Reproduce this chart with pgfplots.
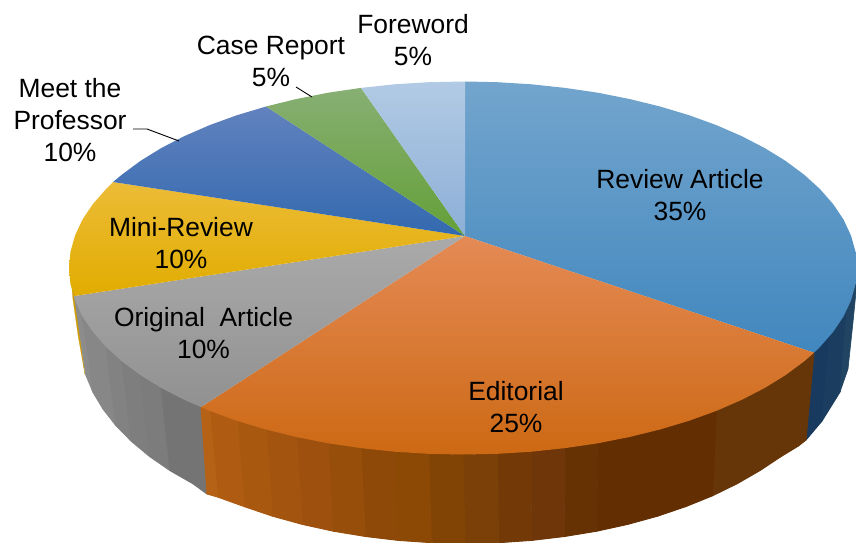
\documentclass[border=0pt]{standalone}
\usepackage{fontspec}
\setmainfont{Liberation Sans}
\usepackage{pgfplots}
\pgfplotsset{compat=1.18}
% wall colours
\definecolor{oa}{RGB}{102,54,8}
\definecolor{ob}{RGB}{98,46,2}
\definecolor{oc}{RGB}{102,50,3}
\definecolor{od}{RGB}{110,54,9}
\definecolor{oe}{RGB}{115,58,8}
\definecolor{of}{RGB}{123,64,7}
\definecolor{og}{RGB}{130,68,5}
\definecolor{oh}{RGB}{140,72,5}
\definecolor{oi}{RGB}{142,72,8}
\definecolor{oj}{RGB}{150,78,10}
\definecolor{ok}{RGB}{158,80,15}
\definecolor{ol}{RGB}{163,85,15}
\definecolor{om}{RGB}{168,88,15}
\definecolor{on}{RGB}{175,92,18}
\definecolor{oo}{RGB}{182,98,22}
\definecolor{ba}{RGB}{25,58,95}
\definecolor{bb}{RGB}{27,62,96}
\definecolor{bc}{RGB}{32,68,98}
\definecolor{ga}{RGB}{116,116,116}
\definecolor{gb}{RGB}{124,124,124}
\definecolor{gc}{RGB}{126,126,126}
\definecolor{gd}{RGB}{130,130,130}
\definecolor{ge}{RGB}{135,135,135}
\definecolor{gf}{RGB}{140,140,140}
\definecolor{ys}{RGB}{205,155,10}
% top-face colours
\definecolor{r1}{RGB}{115,165,205}\definecolor{r2}{RGB}{85,150,205}\definecolor{r3}{RGB}{65,135,190}
\definecolor{e1}{RGB}{228,138,85}\definecolor{e2}{RGB}{218,122,35}\definecolor{e3}{RGB}{205,105,20}
\definecolor{s1}{RGB}{170,170,170}\definecolor{s2}{RGB}{158,158,158}\definecolor{s3}{RGB}{145,145,145}
\definecolor{y1}{RGB}{236,188,55}\definecolor{y2}{RGB}{238,184,0}\definecolor{y3}{RGB}{225,172,0}
\definecolor{d1}{RGB}{98,130,190}\definecolor{d2}{RGB}{65,115,190}\definecolor{d3}{RGB}{50,105,175}
\definecolor{c1}{RGB}{135,175,115}\definecolor{c2}{RGB}{112,170,75}\definecolor{c3}{RGB}{100,160,55}
\definecolor{f1}{RGB}{178,202,228}\definecolor{f2}{RGB}{160,192,226}\definecolor{f3}{RGB}{140,175,215}
\newcommand\Q[9]{\addplot[fill=#1,draw=#1,line width=0.9pt] coordinates {(#2,#3)(#6,#7)(#8,#9)(#4,#5)} -- cycle;}
\begin{document}
\begin{tikzpicture}
\begin{axis}[
  width=856pt,height=543pt,scale only axis,
  xmin=0,xmax=856,ymin=0,ymax=543,y dir=reverse,
  hide axis,
  every axis plot/.append style={no markers,line join=round},
]
\addplot[fill=white,draw=none] coordinates {(0,0)(856,0)(856,543)(0,543)} -- cycle;
% blue wall
\Q{ba}{814}{352.7}{806}{440}{830}{336}{822}{421}
\Q{bb}{830}{336}{822}{421}{847}{309}{840}{392}
\addplot[fill=bc,draw=bc,line width=0.6pt] coordinates {(847,309)(857,268)(856,292)(853,322)(848,369)(840,392)} -- cycle;
% yellow sliver
\addplot[fill=ys,draw=ys,line width=0.2pt] coordinates {(70.5,272)(75,296)(80,335)(85,375)(78,335)(73,300)} -- cycle;
% grey wall
\Q{gf}{82.4}{316.3}{93}{392.3}{74.5}{296}{85.8}{375}
\Q{ge}{92.8}{331.8}{103.2}{409.3}{82.4}{316.3}{93}{392.3}
\Q{ge}{105.9}{346.8}{116}{425.7}{92.8}{331.8}{103.2}{409.3}
\Q{gd}{121.8}{361.25}{131.6}{441.5}{105.9}{346.8}{116}{425.7}
\Q{gc}{140.3}{375}{149.6}{456.5}{121.8}{361.25}{131.6}{441.5}
\Q{gb}{161.2}{387.9}{170}{470.6}{140.3}{375}{149.6}{456.5}
\Q{ga}{184.4}{399.9}{193}{483.8}{161.2}{387.9}{170}{470.6}
\Q{ga}{201}{407}{207}{494}{184.4}{399.9}{193}{483.8}
% orange wall
\Q{oa}{814}{352.7}{806}{440}{804.2}{361.3}{798.4}{446}
\Q{oa}{804.2}{361.3}{798.4}{446}{785.7}{375}{780.4}{457}
\Q{oa}{785.7}{375}{780.4}{457}{764.8}{387.9}{759.9}{470.6}
\Q{oa}{764.8}{387.9}{759.9}{470.6}{741.6}{399.9}{737.2}{483.7}
\Q{oa}{741.6}{399.9}{737.2}{483.7}{716.3}{410.9}{712.5}{495.8}
\Q{ob}{716.3}{410.9}{712.5}{495.8}{689}{420.8}{685.8}{506.6}
\Q{ob}{689}{420.8}{685.8}{506.6}{660}{429.5}{657.5}{516.2}
\Q{ob}{660}{429.5}{657.5}{516.2}{629.5}{437}{627.7}{524.4}
\Q{ob}{629.5}{437}{627.7}{524.4}{597.8}{443.3}{596.7}{531.2}
\Q{oc}{597.8}{443.3}{596.7}{531.2}{565}{448.1}{564.6}{536.5}
\Q{od}{565}{448.1}{564.6}{536.5}{531.4}{451.7}{531.9}{540.4}
\Q{oe}{531.4}{451.7}{531.9}{540.4}{497.3}{453.8}{498.6}{542.7}
\Q{of}{497.3}{453.8}{498.6}{542.7}{463}{454.5}{465}{543.5}
\Q{og}{463}{454.5}{465}{543.5}{428.7}{453.8}{431.4}{542.7}
\Q{oh}{428.7}{453.8}{431.4}{542.7}{394.6}{451.7}{398.1}{540.4}
\Q{oi}{394.6}{451.7}{398.1}{540.4}{361}{448.1}{365.4}{536.5}
\Q{oj}{361}{448.1}{365.4}{536.5}{328.2}{443.3}{333.3}{531.2}
\Q{ok}{328.2}{443.3}{333.3}{531.2}{296.5}{437}{302.3}{524.4}
\Q{ol}{296.5}{437}{302.3}{524.4}{266}{429.5}{272.5}{516.2}
\Q{om}{266}{429.5}{272.5}{516.2}{237}{420.8}{244.2}{506.6}
\Q{on}{237}{420.8}{244.2}{506.6}{209.7}{410.9}{217.5}{497}
\Q{oo}{209.7}{410.9}{217.5}{497}{201}{407}{207}{494}
% top faces
\addplot[draw=none,top color=r1,middle color=r2,bottom color=r3] coordinates {(465,236)(465,81.5)(497.3,82.2)(531.4,84.3)(565,87.9)(597.8,92.7)(629.5,99)(660,106.5)(689,115.2)(716.3,125.1)(741.6,136.1)(764.8,148.1)(785.7,161)(804.2,174.75)(820.1,189.2)(833.2,204.2)(843.6,219.7)(851,235.6)(855.5,251.7)(857,268)(855.5,284.3)(851,300.4)(843.6,316.3)(833.2,331.8)(820.1,346.8)(814,352.7)} -- cycle;
\addplot[draw=none,top color=e1,middle color=e2,bottom color=e3] coordinates {(465,236)(814,352.7)(804.2,361.25)(785.7,375)(764.8,387.9)(741.6,399.9)(716.3,410.9)(689,420.8)(660,429.5)(629.5,437)(597.8,443.3)(565,448.1)(531.4,451.7)(497.3,453.8)(463,454.5)(428.7,453.8)(394.6,451.7)(361,448.1)(328.2,443.3)(296.5,437)(266,429.5)(237,420.8)(209.7,410.9)(201,407)} -- cycle;
\addplot[draw=none,top color=s1,middle color=s2,bottom color=s3] coordinates {(465,236)(201,407)(184.4,399.9)(161.2,387.9)(140.3,375)(121.8,361.25)(105.9,346.8)(92.8,331.8)(82.4,316.3)(75,300.4)(74.5,296)} -- cycle;
\addplot[draw=none,top color=y1,middle color=y2,bottom color=y3] coordinates {(465,236)(74.5,296)(70.5,284.3)(69,268)(70.5,251.7)(75,235.6)(82.4,219.7)(92.8,204.2)(105.9,189.2)(113,182)} -- cycle;
\addplot[draw=none,top color=d1,middle color=d2,bottom color=d3] coordinates {(465,236)(113,182)(121.8,174.75)(140.3,161)(161.2,148.1)(184.4,136.1)(209.7,125.1)(237,115.2)(266,106.5)} -- cycle;
\addplot[draw=none,top color=c1,middle color=c2,bottom color=c3] coordinates {(465,236)(266,106.5)(296.5,99)(328.2,92.7)(361,87.9)} -- cycle;
\addplot[draw=none,top color=f1,middle color=f2,bottom color=f3] coordinates {(465,236)(361,87.9)(394.6,84.3)(428.7,82.2)(465,81.5)} -- cycle;
% leader lines
\addplot[black,line width=0.9pt] coordinates {(133,129)(147,129)(179,141)};
\addplot[black,line width=0.9pt] coordinates {(296,87)(312,97)};
% labels
\tikzset{lab/.style={align=center,inner sep=0pt,font=\fontsize{26.4}{32}\selectfont,text=black}}
\node[lab] at (axis cs:680,195) {Review Article\\35\%};
\node[lab] at (axis cs:516,407) {Editorial\\25\%};
\node[lab] at (axis cs:203.5,333) {Original\ \ Article\\10\%};
\node[lab] at (axis cs:181,243) {Mini-Review\\10\%};
\node[lab] at (axis cs:70,120) {Meet the\\Professor\\10\%};
\node[lab] at (axis cs:271,61) {Case Report\\5\%};
\node[lab] at (axis cs:413,40) {Foreword\\5\%};
\end{axis}
\end{tikzpicture}
\end{document}
